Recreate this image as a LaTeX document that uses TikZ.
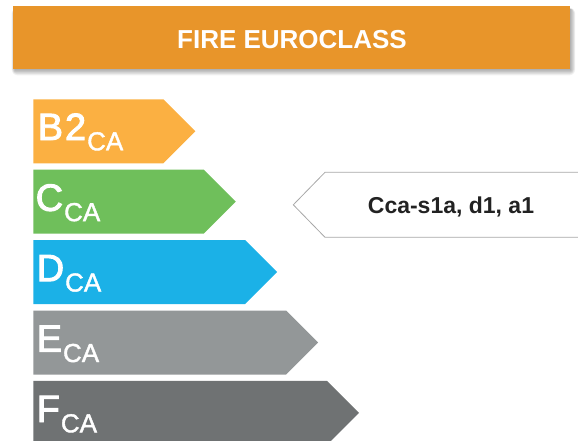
\documentclass[tikz,border=0pt]{standalone}
\usepackage{fontspec}
\setmainfont{Liberation Sans}
\newfontfamily\medfont[FakeBold=2.5]{Liberation Sans}
\newfontfamily\subfont[FakeBold=1.5]{Liberation Sans}
\definecolor{hdrorange}{HTML}{E8952A}
\definecolor{cB}{HTML}{FBB042}
\definecolor{cC}{HTML}{6FBF5B}
\definecolor{cD}{HTML}{1BB1E7}
\definecolor{cE}{HTML}{939798}
\definecolor{cF}{HTML}{6F7273}
\definecolor{boxline}{HTML}{A8A8A8}
\definecolor{txtdark}{HTML}{222222}
\tikzset{
  lbl/.style={anchor=base west, inner sep=0pt, text=white},
  shadowlayer/.style={fill=black, fill opacity=0.05, draw=none},
}
\newcommand{\classlbl}[2]{{\medfont\fontsize{38pt}{40pt}\selectfont #1}\kern1pt\raisebox{-10.3pt}{\subfont\fontsize{26pt}{28pt}\selectfont #2}}
\begin{document}
\begin{tikzpicture}[x=1pt,y=-1pt]
\useasboundingbox (0,0) rectangle (578,441);
% header soft shadow
\foreach \s in {0,1,2,3,4,5,6}{
  \fill[shadowlayer, rounded corners=\s pt] (12.7+2-\s*0.5,6+3.5-\s*0.3) rectangle (570+1+\s*0.7,69+1+\s*0.9);
}
% header
\node[draw=none, fill=hdrorange, minimum width=557.3pt, minimum height=63pt, inner sep=0pt]
  (hdr) at (291.35,37.5) {};
\node[text=white, inner sep=0pt, anchor=base] (hdrtxt) at (292,48.3)
  {\bfseries\fontsize{26pt}{28pt}\selectfont FIRE EUROCLASS};
% chevrons
\fill[cB] (33.3,99.3) -- (163.3,99.3) -- (195.3,131.3) -- (163.3,163.3) -- (33.3,163.3) -- cycle;
\fill[cC] (33.3,169.6) -- (203.8,169.6) -- (235.8,201.6) -- (203.8,233.6) -- (33.3,233.6) -- cycle;
\fill[cD] (33.3,240) -- (245,240) -- (277,272) -- (245,304) -- (33.3,304) -- cycle;
\fill[cE] (33.3,310.5) -- (286,310.5) -- (318,342.5) -- (286,374.5) -- (33.3,374.5) -- cycle;
\fill[cF] (33.3,380.8) -- (327,380.8) -- (359,412.8) -- (327,444.8) -- (33.3,444.8) -- cycle;
\node[lbl] (lB) at (37.5,140) {\classlbl{B\kern2pt 2}{CA}};
\node[lbl] (lC) at (35.5,210.8) {\classlbl{C}{CA}};
\node[lbl] (lD) at (36.5,281.2) {\classlbl{D}{CA}};
\node[lbl] (lE) at (36.5,351.7) {\classlbl{E}{CA}};
\node[lbl] (lF) at (36.5,422) {\classlbl{F}{CA}};
% result box
\draw[boxline, line width=0.8pt] (580,172.3) -- (325,172.3) -- (293.3,204.8) -- (325,237.3) -- (580,237.3);
\node[text=txtdark, inner sep=0pt, anchor=base] (res) at (451,213)
  {\bfseries\fontsize{23pt}{25pt}\selectfont Cca-s1a, d1, a1};
\end{tikzpicture}
\end{document}
